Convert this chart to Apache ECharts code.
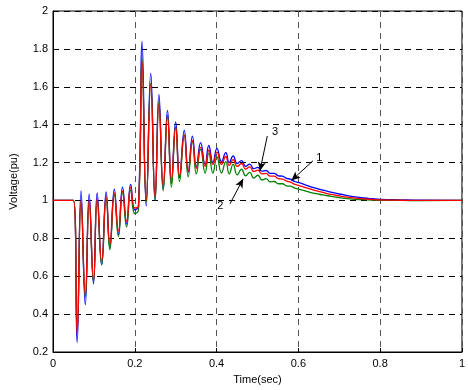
<!DOCTYPE html>
<html>
<head>
<meta charset="utf-8">
<script src="https://cdn.jsdelivr.net/npm/echarts@6/dist/echarts.min.js"></script>
<style>
html,body{margin:0;padding:0;background:#fff;}
#c{width:468px;height:390px;}
</style>
</head>
<body>
<div id="c"></div>
<script>
// Time (sec)
var time = [0, 0.05, 0.059, 0.0686, 0.079, 0.0885, 0.099, 0.108, 0.119, 0.130, 0.139, 0.150, 0.160, 0.170, 0.180, 0.190, 0.200, 0.209,
  0.2177, 0.228, 0.239, 0.2496, 0.259, 0.2695, 0.28, 0.2895, 0.300, 0.3094, 0.321, 0.3306, 0.341, 0.3505, 0.361, 0.372, 0.381, 0.391,
  0.401, 0.412, 0.4225, 0.431, 0.4405, 0.4505, 0.461, 0.471, 0.481, 0.491, 0.501, 0.511, 0.521, 0.531, 0.541, 0.551, 0.561, 0.571,
  0.581, 0.591, 0.60, 0.62, 0.64, 0.66, 0.68, 0.70, 0.72, 0.74, 0.76, 0.78, 0.80, 0.85, 0.90, 1.0];
// Curve 1 (blue)
var curve1 = [1, 1, 0.25, 1.05, 0.45, 1.035, 0.56, 1.04, 0.66, 1.045, 0.75, 1.06, 0.82, 1.07, 0.875, 1.085, 0.95, 0.97,
  1.84, 0.97, 1.67, 1.0, 1.56, 1.06, 1.475, 1.09, 1.415, 1.12, 1.37, 1.15, 1.34, 1.175, 1.305, 1.19, 1.29, 1.2,
  1.275, 1.205, 1.252, 1.2, 1.235, 1.195, 1.21, 1.18, 1.192, 1.168, 1.175, 1.155, 1.158, 1.143, 1.143, 1.13, 1.128, 1.117,
  1.112, 1.1, 1.095, 1.08, 1.066, 1.054, 1.044, 1.034, 1.026, 1.019, 1.013, 1.009, 1.006, 1.003, 1.001, 1.0];
// Curve 2 (green)
var curve2 = [1, 1, 0.32, 0.99, 0.49, 0.99, 0.57, 1.0, 0.66, 1.01, 0.74, 1.03, 0.81, 1.04, 0.86, 1.055, 0.93, 0.95,
  1.75, 0.99, 1.62, 1.0, 1.52, 1.05, 1.45, 1.07, 1.39, 1.1, 1.345, 1.125, 1.31, 1.14, 1.27, 1.145, 1.25, 1.145,
  1.23, 1.145, 1.205, 1.14, 1.19, 1.135, 1.165, 1.13, 1.148, 1.118, 1.133, 1.108, 1.115, 1.098, 1.1, 1.088, 1.088, 1.077,
  1.075, 1.065, 1.06, 1.048, 1.037, 1.029, 1.022, 1.015, 1.01, 1.006, 1.004, 1.002, 1.001, 1.0, 0.999, 1.0];
// Curve 3 (red)
var curve3 = [1, 1, 0.30, 1.0, 0.50, 1.0, 0.58, 1.01, 0.68, 1.02, 0.77, 1.04, 0.84, 1.05, 0.89, 1.07, 0.96, 0.97,
  1.735, 1.0, 1.61, 1.02, 1.51, 1.08, 1.44, 1.11, 1.385, 1.13, 1.345, 1.155, 1.315, 1.17, 1.28, 1.18, 1.265, 1.19,
  1.255, 1.19, 1.232, 1.185, 1.215, 1.18, 1.195, 1.165, 1.177, 1.153, 1.16, 1.14, 1.143, 1.128, 1.128, 1.115, 1.113, 1.102,
  1.097, 1.085, 1.08, 1.066, 1.053, 1.042, 1.032, 1.024, 1.017, 1.012, 1.008, 1.005, 1.003, 1.001, 1.0, 1.0];

var xTicks = [0, 0.2, 0.4, 0.6, 0.8, 1];
var yTicks = [0.2, 0.4, 0.6, 0.8, 1, 1.2, 1.4, 1.6, 1.8, 2];

// Annotation labels and arrows (data coordinates: [time, voltage])
var annoNames = ['1', '2', '3'];
var annoText = [[0.651, 1.224], [0.409, 0.972], [0.543, 1.36]];
var arrowFrom = [[0.636, 1.21], [0.433, 0.983], [0.524, 1.34]];
var arrowTo = [[0.583, 1.105], [0.465, 1.114], [0.506, 1.156]];

function pairs(ys) { return time.map(function (t, i) { return [t, ys[i]]; }); }
function fmt(v) { return String(Math.round(v * 10) / 10); }

var chart = echarts.init(document.getElementById('c'), null, { renderer: 'canvas' });
var font = 'Liberation Sans, Arial, sans-serif';
var lineBase = { type: 'line', showSymbol: false, smooth: 0.5, animation: false, z: 3 };

chart.setOption({
  animation: false,
  backgroundColor: '#fff',
  grid: { left: 49, right: 1, top: 11, bottom: 36, show: true, borderColor: '#000', borderWidth: 1 },
  xAxis: {
    type: 'value', min: 0, max: 1, interval: 0.2,
    name: 'Time(sec)', nameLocation: 'middle', nameGap: 22,
    nameTextStyle: { fontFamily: font, fontSize: 11, color: '#000' },
    axisLine: { lineStyle: { color: '#000' } },
    axisTick: { inside: true, length: 4, lineStyle: { color: '#000' } },
    axisLabel: { fontFamily: font, fontSize: 11, color: '#000', margin: 6, formatter: fmt },
    splitLine: { show: true, lineStyle: { color: '#555', type: [6, 5], width: 1 } }
  },
  yAxis: {
    type: 'value', min: 0.2, max: 2, interval: 0.2,
    name: 'Voltage(pu)', nameLocation: 'middle', nameGap: 34, nameRotate: 90,
    nameTextStyle: { fontFamily: font, fontSize: 11, color: '#000' },
    axisLine: { lineStyle: { color: '#000' } },
    axisTick: { inside: true, length: 4, lineStyle: { color: '#000' } },
    axisLabel: { fontFamily: font, fontSize: 11, color: '#000', margin: 5, formatter: fmt },
    splitLine: { show: true, lineStyle: { color: '#000', type: [6, 5], width: 1 } }
  },
  series: [
    Object.assign({}, lineBase, { name: '1', data: pairs(curve1), lineStyle: { color: '#0000ff', width: 1.3 }, itemStyle: { color: '#0000ff' } }),
    Object.assign({}, lineBase, { name: '2', data: pairs(curve2), lineStyle: { color: '#008000', width: 1.3 }, itemStyle: { color: '#008000' } }),
    Object.assign({}, lineBase, {
      name: '3', data: pairs(curve3), lineStyle: { color: '#ff0000', width: 1.3 }, itemStyle: { color: '#ff0000' },
      markLine: {
        silent: true, animation: false, symbol: ['none', 'arrow'], symbolSize: [6, 9],
        lineStyle: { color: '#000', type: 'solid', width: 1 },
        label: { show: false },
        data: arrowFrom.map(function (p, i) { return [{ coord: p }, { coord: arrowTo[i] }]; })
      },
      markPoint: {
        silent: true, animation: false, symbol: 'circle', symbolSize: 1,
        itemStyle: { color: 'rgba(0,0,0,0)' },
        label: { show: true, position: 'inside', color: '#000', fontFamily: font, fontSize: 11, formatter: '{b}' },
        data: annoText.map(function (p, i) { return { name: annoNames[i], coord: p }; })
      }
    })
  ]
});
</script>
</body>
</html>
